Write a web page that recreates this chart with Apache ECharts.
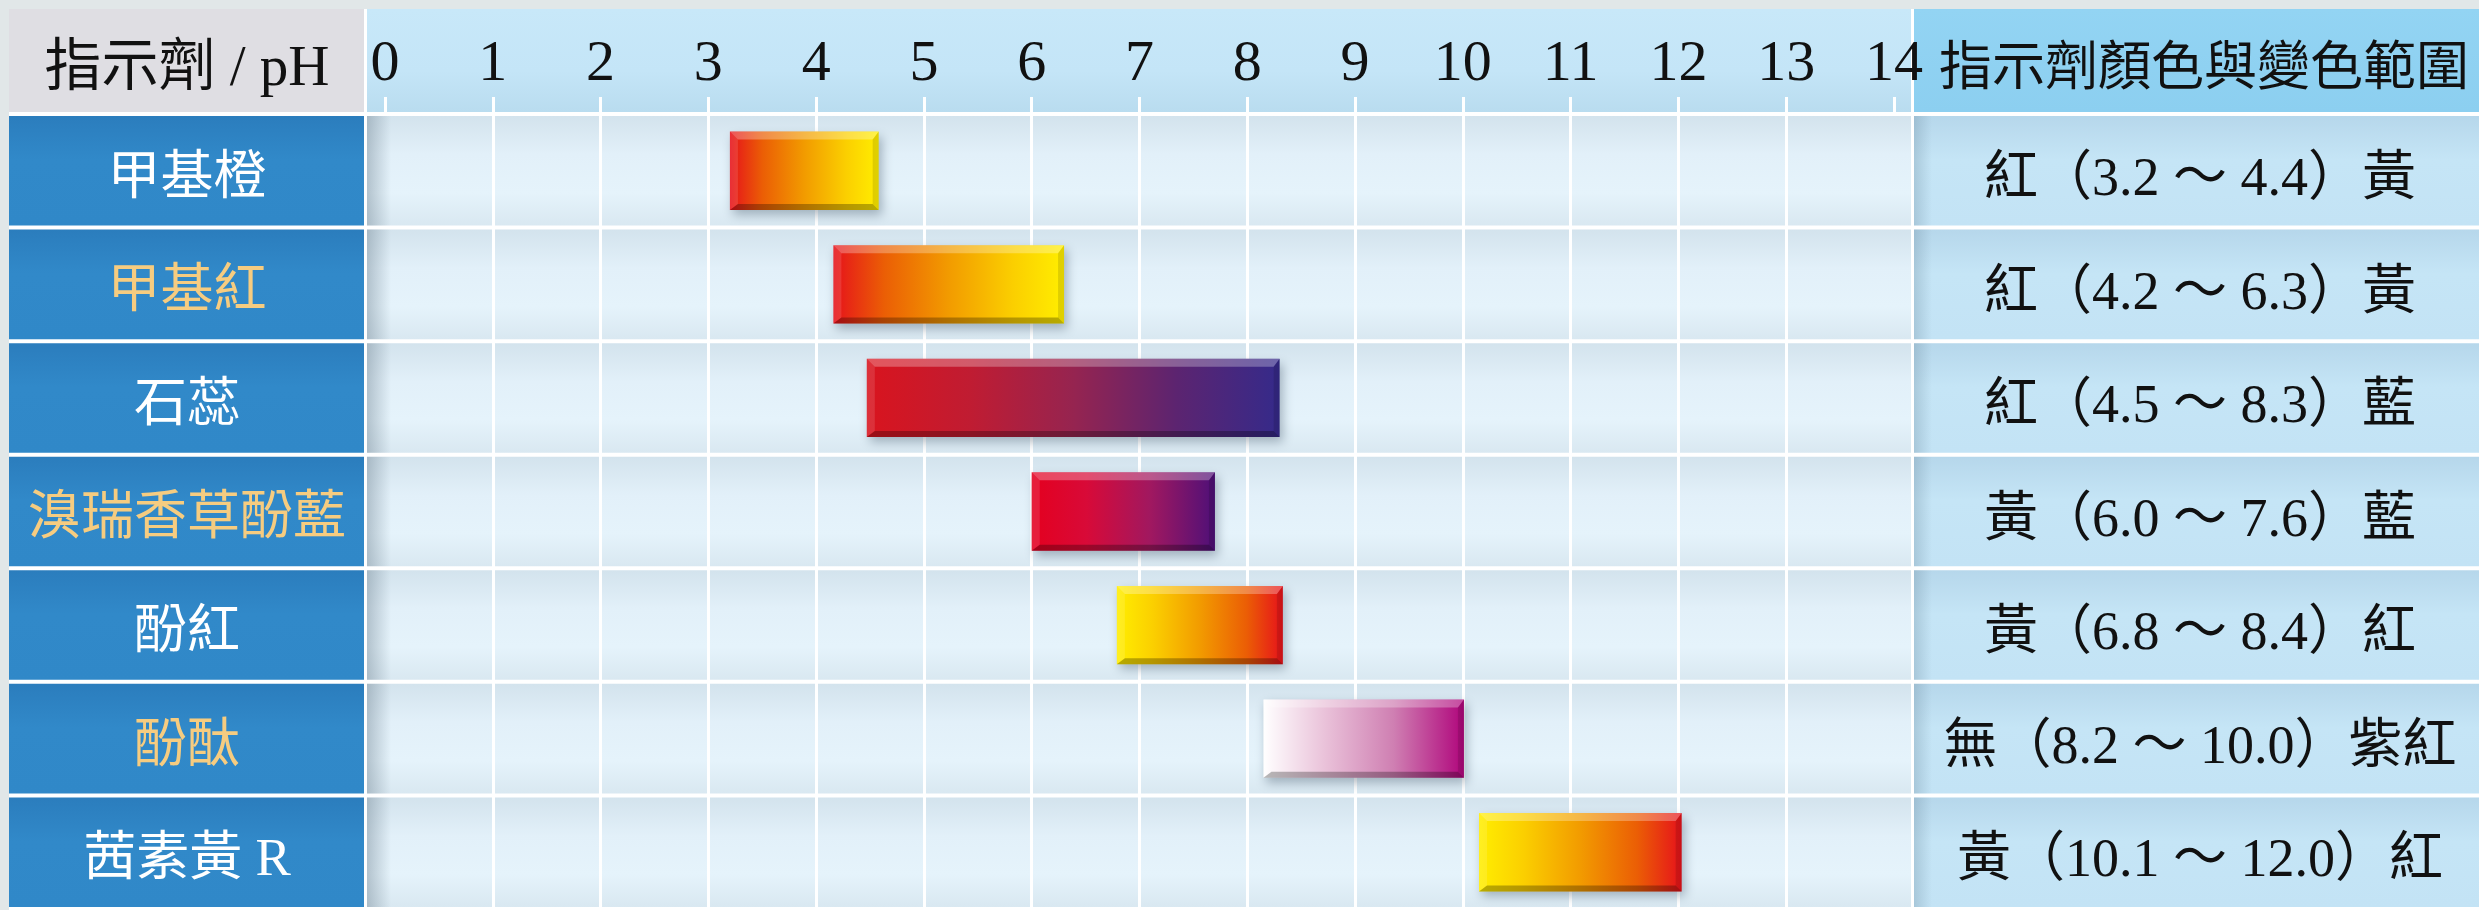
<!DOCTYPE html>
<html>
<head>
<meta charset="utf-8">
<script src="https://cdn.jsdelivr.net/npm/echarts@6/dist/echarts.min.js"></script>
<style>
html,body{margin:0;padding:0;background:#e1e7e8;}
#chart{width:2479px;height:910px;}
</style>
</head>
<body>
<div id="chart"></div>
<script>
// ---- data ----
const categories = ['甲基橙', '甲基紅', '石蕊', '溴瑞香草酚藍', '酚紅', '酚酞', '茜素黃 R'];
const barStart = [3.2, 4.16, 4.47, 6.0, 6.79, 8.15, 10.15];
const barEnd = [4.58, 6.3, 8.3, 7.7, 8.33, 10.01, 12.03];
const colorLow = ['紅', '紅', '紅', '黃', '黃', '無', '黃'];
const rangeLow = ['3.2', '4.2', '4.5', '6.0', '6.8', '8.2', '10.1'];
const rangeHigh = ['4.4', '6.3', '8.3', '7.6', '8.4', '10.0', '12.0'];
const colorHigh = ['黃', '黃', '藍', '藍', '紅', '紫紅', '紅'];
const phMin = 0, phMax = 14, phStep = 1;
const headerLeft = '指示劑 / pH';
const headerRight = '指示劑顏色與變色範圍';

// ---- styles ----
const warm = [[0, '#e6121b'], [0.22, '#eb5e05'], [0.5, '#f29b00'], [0.78, '#fbcf00'], [1, '#ffee00']];
const warmRev = warm.map(s => [1 - s[0], s[1]]).reverse();
const barGradients = [
  warm,
  warm,
  [[0, '#d9141e'], [0.25, '#c01c32'], [0.5, '#962450'], [0.75, '#5c2470'], [1, '#352a8a']],
  [[0, '#e4001f'], [0.3, '#d80a38'], [0.65, '#a01860'], [1, '#4e1078']],
  warmRev,
  [[0, '#ffffff'], [0.3, '#eac3da'], [0.65, '#cf7fb2'], [1, '#b0067c']],
  warmRev
];
const labelColors = ['#ffffff', '#f6cc80', '#ffffff', '#f6cc80', '#ffffff', '#f6cc80', '#ffffff'];
const FONT = '"Liberation Serif", "Noto Sans CJK TC"';

function lg(x, y, x2, y2, stops) {
  return new echarts.graphic.LinearGradient(x, y, x2, y2, stops.map(s => ({offset: s[0], color: s[1]})));
}

const chart = echarts.init(document.getElementById('chart'), null, {renderer: 'canvas'});

function renderRow(params, api) {
  const cs = params.coordSys;
  const i = api.value(0);
  const c = api.coord([phMin, i]);
  const band = api.size([0, 1])[1];
  const top = c[1] - band / 2 + 2;
  const h = band - 4;
  const W = api.getWidth();
  const plotL = cs.x - 18, plotR = cs.x + cs.width + 17;
  const leftR = cs.x - 21, rightL = cs.x + cs.width + 20;
  return {
    type: 'group',
    children: [
      {type: 'rect', shape: {x: 9, y: top, width: leftR - 9, height: h},
        style: {fill: lg(0, 0, 0, 1, [[0, '#2b7dbd'], [0.4, '#3189c9'], [1, '#3088c8']])}},
      {type: 'rect', shape: {x: plotL, y: top, width: plotR - plotL, height: h},
        style: {fill: lg(0, 0, 0, 1, [[0, '#d3e3ed'], [0.35, '#e2f0f9'], [0.7, '#e5f3fb'], [1, '#d9e8f1']])}},
      {type: 'rect', shape: {x: plotL, y: top, width: 24, height: h},
        style: {fill: lg(0, 0, 1, 0, [[0, 'rgba(95,115,130,0.38)'], [1, 'rgba(95,115,130,0)']])}},
      {type: 'rect', shape: {x: rightL, y: top, width: W - rightL, height: h},
        style: {fill: lg(0, 0, 0, 1, [[0, '#b6d7eb'], [0.4, '#c5e5f6'], [1, '#c3e3f5']])}},
      {type: 'rect', shape: {x: rightL, y: top, width: 18, height: h},
        style: {fill: lg(0, 0, 1, 0, [[0, 'rgba(70,100,120,0.22)'], [1, 'rgba(70,100,120,0)']])}}
    ]
  };
}

function renderBar(params, api) {
  const i = api.value(2);
  const p0 = api.coord([api.value(0), i]);
  const p1 = api.coord([api.value(1), i]);
  const h = api.size([0, 1])[1] * 0.69;
  const x0 = p0[0], x1 = p1[0], y0 = p0[1] - h / 2, y1 = p0[1] + h / 2;
  const b = 8, d = 6;
  return {
    type: 'group',
    children: [
      {type: 'rect', shape: {x: x0, y: y0, width: x1 - x0, height: h},
        style: {fill: lg(0, 0, 1, 0, barGradients[i]), shadowBlur: 10, shadowOffsetX: 3, shadowOffsetY: 5, shadowColor: 'rgba(40,60,80,0.35)'}},
      {type: 'polygon', shape: {points: [[x0, y0], [x1, y0], [x1 - d, y0 + b], [x0 + b, y0 + b]]},
        style: {fill: 'rgba(255,255,255,0.28)'}},
      {type: 'polygon', shape: {points: [[x0, y0], [x0 + b, y0 + b], [x0 + b, y1 - d], [x0, y1]]},
        style: {fill: 'rgba(255,255,255,0.12)'}},
      {type: 'polygon', shape: {points: [[x0, y1], [x0 + b, y1 - d], [x1 - d, y1 - d], [x1, y1]]},
        style: {fill: 'rgba(0,0,0,0.28)'}},
      {type: 'polygon', shape: {points: [[x1, y0], [x1, y1], [x1 - d, y1 - d], [x1 - d, y0 + b]]},
        style: {fill: 'rgba(0,0,0,0.12)'}}
    ]
  };
}

const option = {
  backgroundColor: '#e1e7e8',
  animation: false,
  grid: {left: 385, right: 585, top: 114, bottom: 1, containLabel: false},
  graphic: {
    elements: [
      {type: 'rect', z: -20, shape: {x: 9, y: 9, width: 2470, height: 901}, style: {fill: '#ffffff'}},
      {type: 'rect', z: -10, shape: {x: 9, y: 9, width: 355, height: 103}, style: {fill: '#dfdee3'}},
      {type: 'rect', z: -10, shape: {x: 367, y: 9, width: 1544, height: 103},
        style: {fill: lg(0, 0, 0, 1, [[0, '#c8e8f9'], [0.6, '#c4e5f7'], [1, '#b9dcef']])}},
      {type: 'rect', z: -10, shape: {x: 1914, y: 9, width: 565, height: 103},
        style: {fill: lg(0, 0, 0, 1, [[0, '#93d4f3'], [1, '#8ccff0']])}},
      {type: 'text', z: 10, x: 187, y: 70,
        style: {text: headerLeft, fontSize: 57, fontFamily: FONT, fill: '#111', align: 'center', verticalAlign: 'middle'}},
      {type: 'text', z: 10, x: 2204, y: 71,
        style: {text: headerRight, fontSize: 53, fontFamily: FONT, fill: '#111', align: 'center', verticalAlign: 'middle'}}
    ]
  },
  xAxis: {
    type: 'value', position: 'top', min: phMin, max: phMax, interval: phStep, offset: 2, z: 3,
    axisLine: {show: false},
    axisTick: {show: true, length: 15, lineStyle: {color: '#ffffff', width: 3}},
    axisLabel: {show: true, margin: 47, verticalAlign: 'middle', fontFamily: '"Liberation Serif"', fontSize: 58, color: '#111', showMinLabel: true, showMaxLabel: true},
    splitLine: {show: true, showMinLine: false, showMaxLine: false, lineStyle: {color: '#ffffff', width: 3}}
  },
  yAxis: [
    {
      type: 'category', data: categories, inverse: true, position: 'left', z: 4,
      axisLine: {show: false}, axisTick: {show: false}, splitLine: {show: false},
      axisLabel: {margin: 198, align: 'center', verticalAlign: 'middle', fontSize: 53, fontFamily: FONT,
        color: (v, i) => labelColors[i],
        formatter: (v) => '{t|' + v + '}',
        rich: {t: {fontSize: 53, fontFamily: FONT, padding: [18, 0, 0, 0]}}}
    },
    {
      type: 'category', data: categories, inverse: true, position: 'right', z: 4,
      axisLine: {show: false}, axisTick: {show: false}, splitLine: {show: false},
      axisLabel: {margin: 306, align: 'center', verticalAlign: 'middle', fontSize: 54, fontFamily: FONT, color: '#111',
        formatter: (v, i) => '{t|' + colorLow[i] + '（' + rangeLow[i] + ' ～ ' + rangeHigh[i] + '）' + colorHigh[i] + '}',
        rich: {t: {fontSize: 54, fontFamily: FONT, color: '#111', padding: [20, 0, 0, 0]}}}
    }
  ],
  series: [
    {
      type: 'custom', name: 'rows', z: 1, clip: false, silent: true,
      renderItem: renderRow,
      encode: {x: -1, y: 0},
      data: categories.map((c, i) => [i])
    },
    {
      type: 'custom', name: 'range', z: 5, clip: false,
      renderItem: renderBar,
      encode: {x: [0, 1], y: 2},
      data: categories.map((c, i) => [barStart[i], barEnd[i], i])
    }
  ]
};
chart.setOption(option);
</script>
</body>
</html>
